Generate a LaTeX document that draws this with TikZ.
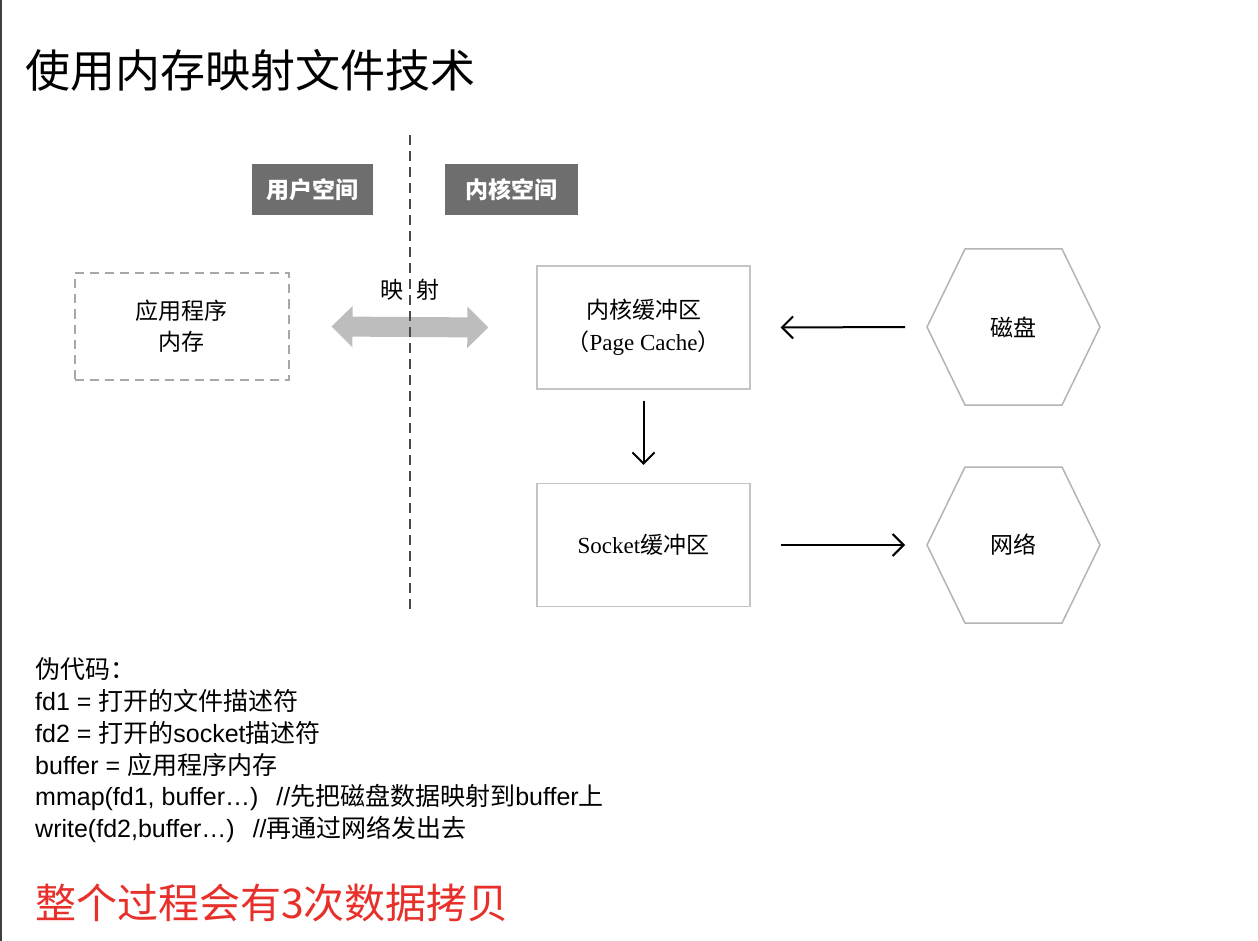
\documentclass[tikz,border=0pt]{standalone}
\usepackage{fontspec}
\setmainfont{Liberation Sans}
\newfontfamily\cjk{Noto Sans CJK SC}
\newfontfamily\serifl{Liberation Serif}
\usetikzlibrary{arrows.meta}
\definecolor{hdrgray}{HTML}{6E6E6E}
\definecolor{boxgray}{HTML}{C4C4C4}
\definecolor{hexgray}{HTML}{B4B4B4}
\definecolor{dashgray}{HTML}{A8A8A8}
\definecolor{divgray}{HTML}{4A4A4A}
\definecolor{maparrow}{HTML}{BDBDBD}
\definecolor{notered}{HTML}{E8302B}
\begin{document}
\begin{tikzpicture}[x=1pt,y=-1pt,
  hdr/.style={fill=hdrgray, text=white, font=\cjk\bfseries\fontsize{23}{23}\selectfont, minimum width=121pt, minimum height=51pt, inner sep=0pt},
  kbox/.style={draw=boxgray, line width=1.3pt, minimum width=213pt, minimum height=123pt, inner sep=0pt, font=\fontsize{23}{32}\selectfont, align=center},
  hexshape/.style={draw=hexgray, line width=1.5pt},
  lbl/.style={font=\cjk\fontsize{23}{23}\selectfont, inner sep=0pt},
  arr/.style={-{Straight Barb[length=11pt,width=22pt,line width=2pt]}, line width=2pt},
  maparr/.style={{Triangle[length=21pt,width=40pt]}-{Triangle[length=21pt,width=40pt]}, line width=20pt, draw=maparrow},
  divider/.style={draw=divgray, line width=2.4pt, dash pattern=on 10pt off 6pt},
  code/.style={anchor=west, inner sep=0pt, font=\fontsize{25}{25}\selectfont}
]
\useasboundingbox (0,0) rectangle (1258,941);
\fill[white] (0,0) rectangle (1258,941);
\draw[line width=2pt, black!75] (1,0) -- (1,941);

% title
\node[anchor=west, inner sep=0pt, font=\cjk\fontsize{45}{45}\selectfont] (title) at (25,70) {使用内存映射文件技术};

% headers
\node[hdr] (user) at (312.5,190) {用户空间};
\node[hdr, minimum width=133pt] (kernel) at (511,190) {内核空间};

% boxes
\node[draw=dashgray, line width=2pt, dash pattern=on 9pt off 6pt, minimum width=214pt, minimum height=106pt, inner sep=0pt, align=center, font=\cjk\fontsize{23}{31}\selectfont] (app) at (181.5,326.5) {应用程序\\内存};
\node[kbox] (kbuf) at (643.5,327.5) {{\cjk 内核缓冲区}\\{\cjk （}{\serifl Page Cache}{\cjk ）}};
\node[kbox] (sbuf) at (643.5,545) {{\serifl Socket}{\cjk 缓冲区}};

% mapping arrow and divider
\draw[maparr] ([xshift=42pt]app.east) -- ([xshift=-48pt]kbuf.west);
\draw[divider] (410,135) -- (410,612);
\node[lbl] (maplbl) at (410,290) {映\hspace{14pt}射};

% hexagons
\foreach \cy/\nm/\txt in {327/disk/磁盘, 545/net/网络}{
  \draw[hexshape] (927,\cy) -- (965,\cy-78) -- (1062,\cy-78) -- (1100,\cy) -- (1062,\cy+78) -- (965,\cy+78) -- cycle;
  \node[lbl] (\nm) at (1013,\cy) {\txt};
  \coordinate (\nm W) at (927,\cy);
}

% connectors
\draw[arr] ([xshift=-22pt]diskW) -- ([xshift=30pt]kbuf.east);
\draw[arr] ([yshift=-11pt]kbuf.south) -- ([yshift=18pt]sbuf.north);
\draw[arr] ([xshift=30pt]sbuf.east) -- ([xshift=-22pt]netW);

% pseudocode
\node[code] (c0) at (35,669) {{\cjk 伪代码：}};
\node[code] (c1) at (35,701) {fd1 = {\cjk 打开的文件描述符}};
\node[code] (c2) at (35,733) {fd2 = {\cjk 打开的}socket{\cjk 描述符}};
\node[code] (c3) at (35,765) {buffer = {\cjk 应用程序内存}};
\node[code] (c4) at (35,797) {mmap(fd1, buffer…)\hspace{18pt}//{\cjk 先把磁盘数据映射到}buffer{\cjk 上}};
\node[code] (c5) at (35,829) {write(fd2,buffer…)\hspace{18pt}//{\cjk 再通过网络发出去}};

% note
\node[anchor=west, inner sep=0pt, text=notered, font=\cjk\fontsize{41}{41}\selectfont] (note) at (35,903) {整个过程会有3次数据拷贝};
\end{tikzpicture}
\end{document}
